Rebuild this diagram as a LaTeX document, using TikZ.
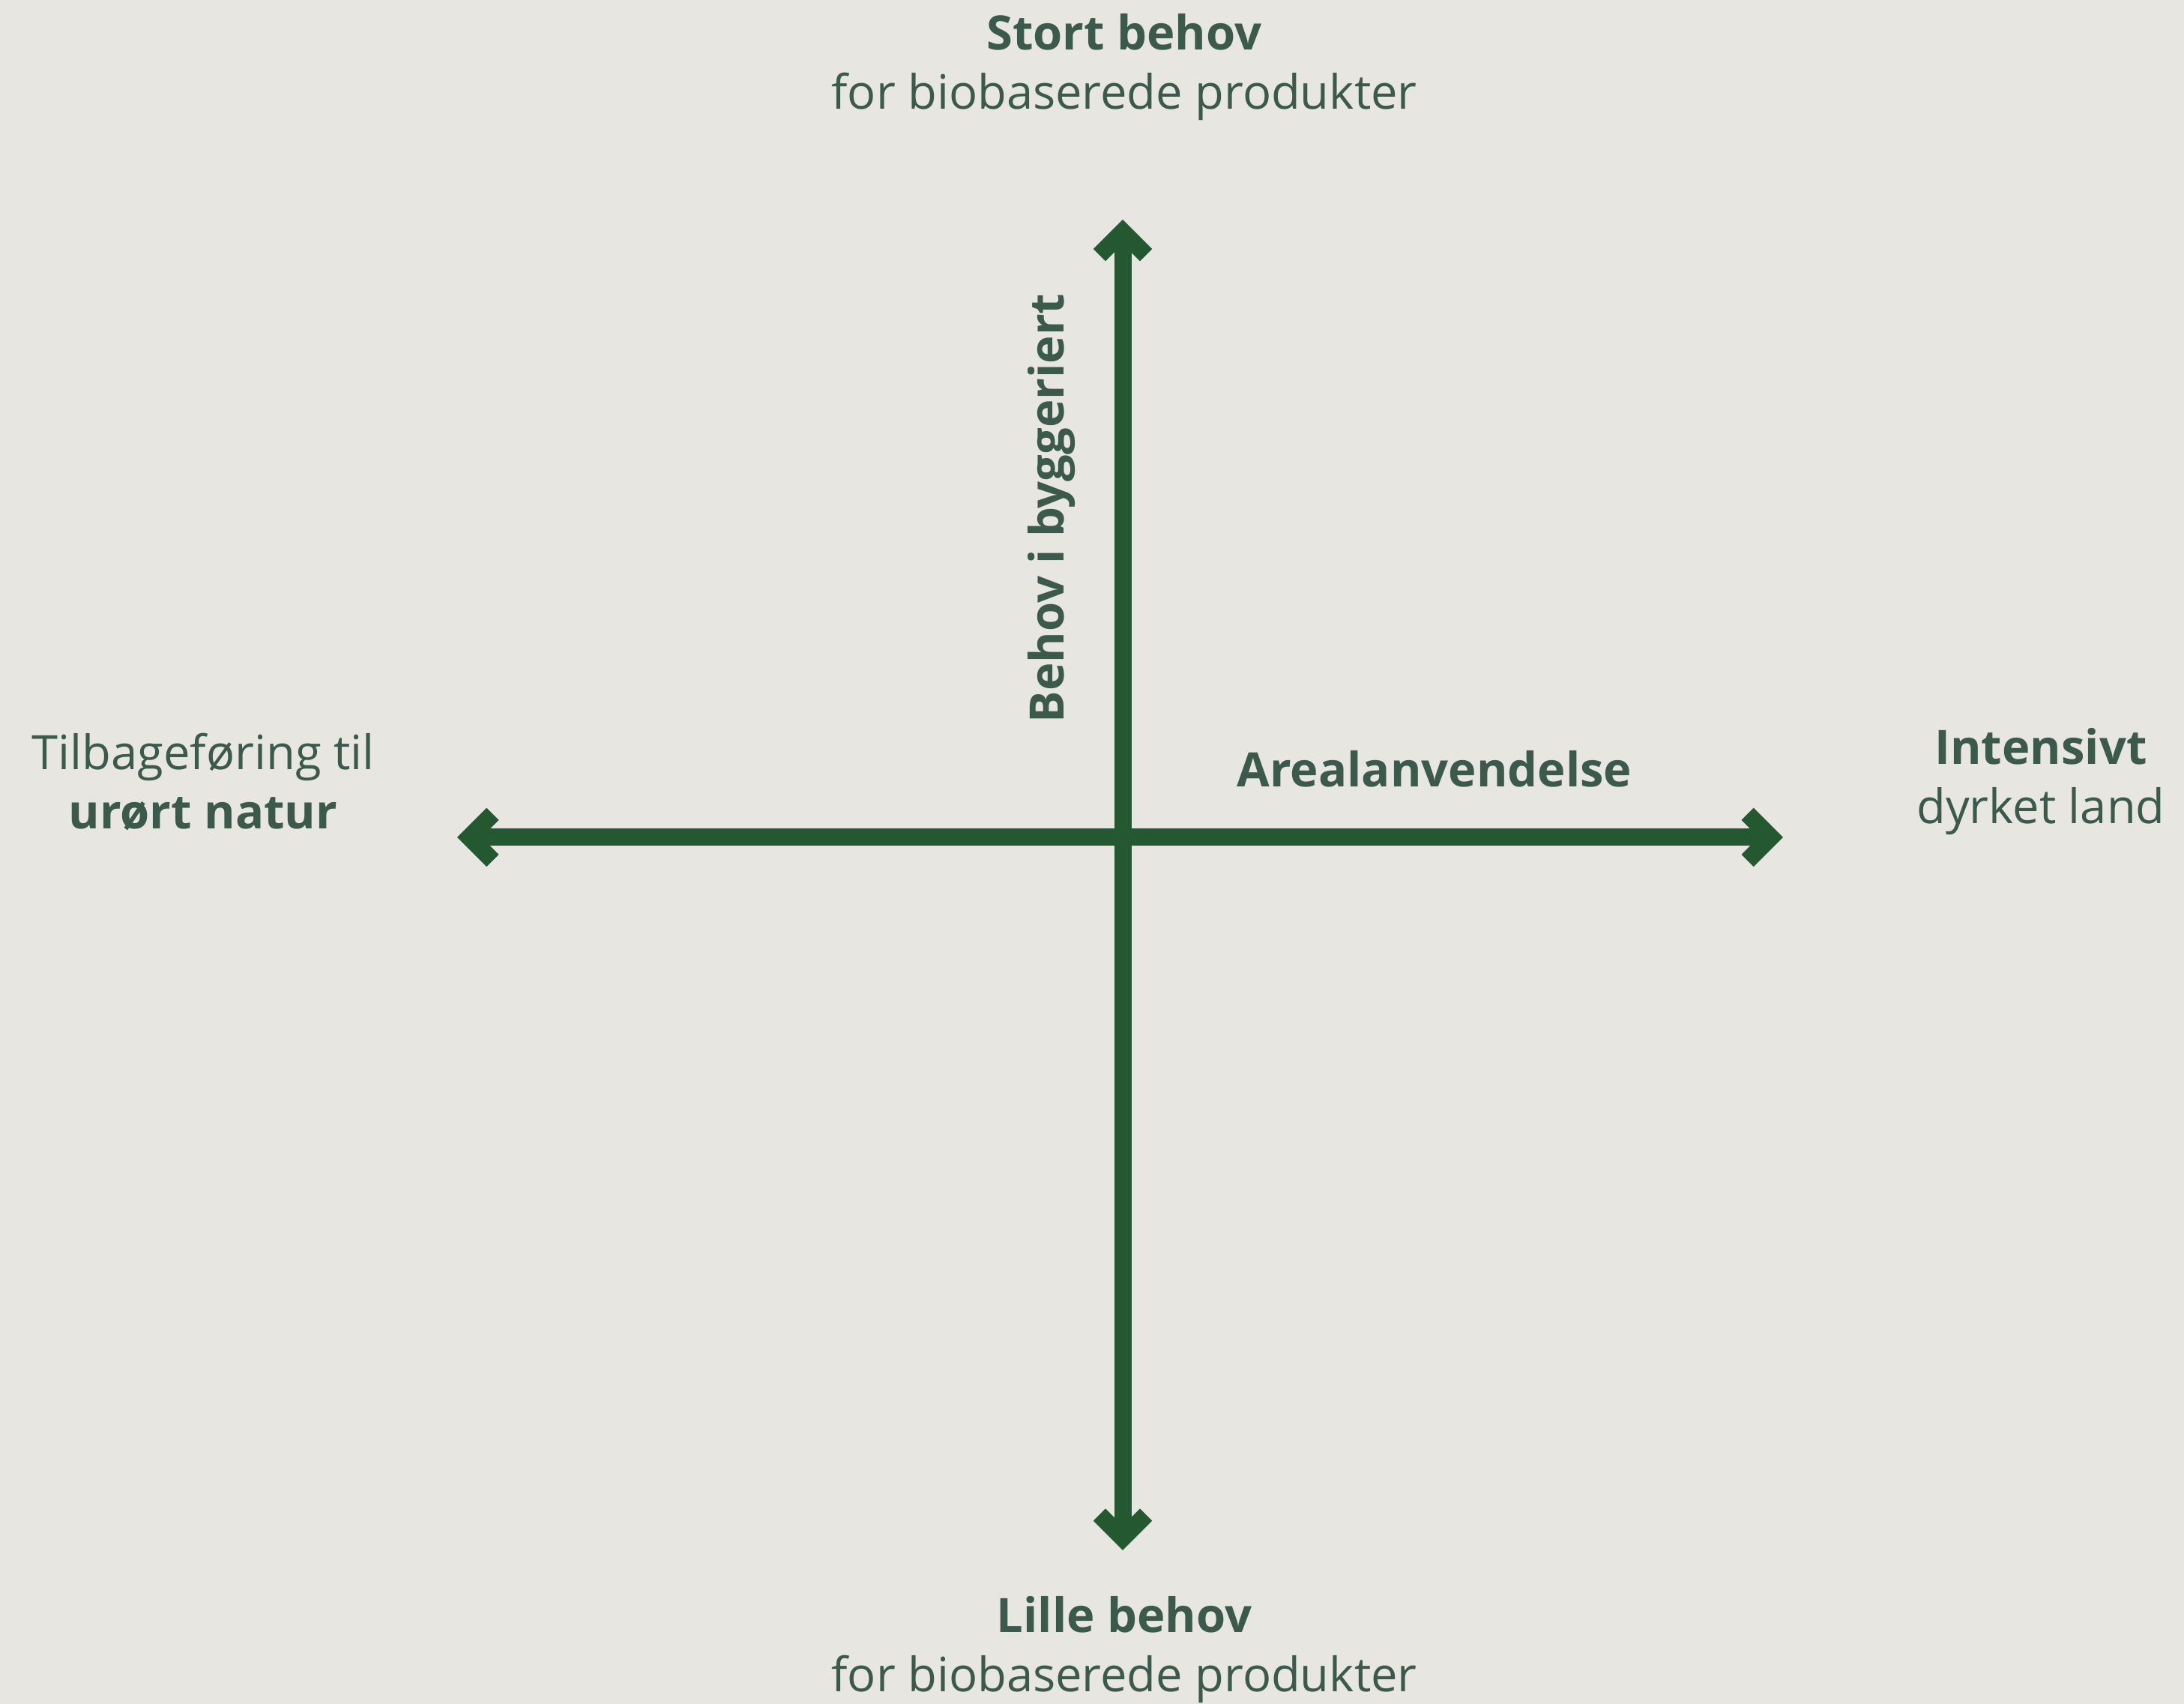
\documentclass[tikz,border=0pt]{standalone}
\usepackage{fontspec}
\setmainfont{Open Sans}
\usepackage{xcolor}
\usetikzlibrary{arrows.meta, positioning}
\definecolor{mybg}   {RGB}{231,230,225}
\definecolor{myaxis} {RGB}{ 36, 88, 48}
\definecolor{mytext} {RGB}{ 59, 90, 76}

\begin{document}
\begin{tikzpicture}[
  lbl/.style={text=mytext, align=center, inner sep=0pt,
    font=\fontsize{18}{22.5}\selectfont},
  ttl/.style={lbl, font=\fontsize{18}{22}\selectfont\bfseries},
  ax/.style={draw=myaxis, line width=0.23cm,
    {Straight Barb[angle=90:0.44cm]}-{Straight Barb[angle=90:0.44cm]}}
]
  \fill[mybg] (0,0) rectangle (29.14,22.73);
  \useasboundingbox (0,0) rectangle (29.14,22.73);
  % Axis ends
  \coordinate (top)    at (14.98,19.80);
  \coordinate (bottom) at (14.98, 2.05);
  \coordinate (left)   at ( 6.10,11.56);
  \coordinate (right)  at (23.79,11.56);
  % Labels
  \node[lbl] (need-hi) at (15.00,21.83)
    {\textbf{Stort behov}\\for biobaserede produkter};
  \node[lbl] (need-lo) at (15.00, 0.72)
    {\textbf{Lille behov}\\for biobaserede produkter};
  \node[lbl] (nature)  at ( 2.71,12.30)
    {Tilbageføring til\\\textbf{urørt natur}};
  \node[lbl] (farm)    at (27.23,12.30)
    {\textbf{Intensivt}\\dyrket land};
  \node[ttl] (land)    at (19.14,12.47) {Arealanvendelse};
  \node[ttl, rotate=90] (build) at (14.03,15.95) {Behov i byggeriert};
  % Arrows
  \draw[ax] (left) -- (right);
  \draw[ax] (bottom) -- (top);
\end{tikzpicture}
\end{document}
